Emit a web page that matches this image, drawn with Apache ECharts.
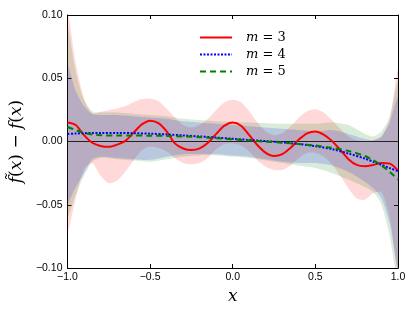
<!DOCTYPE html>
<html><head><meta charset="utf-8">
<script src="https://cdn.jsdelivr.net/npm/echarts@6/dist/echarts.min.js"></script>
<style>html,body{margin:0;padding:0;background:#fff}#c{width:415px;height:312px}</style>
</head><body><div id="c"></div>
<script>
// ---- data ----
const xFine = [-1.00,-0.95,-0.90,-0.85,-0.80,-0.75,-0.70,-0.65,-0.60,-0.55,-0.50,-0.45,-0.40,-0.35,-0.30,-0.25,-0.20,-0.15,-0.10,-0.05,0.00,0.05,0.10,0.15,0.20,0.25,0.30,0.35,0.40,0.45,0.50,0.55,0.60,0.65,0.70,0.75,0.80,0.85,0.90,0.95,1.00];
const m3 = [0.0150,0.0130,0.0050,-0.0010,-0.0035,-0.0042,-0.0025,0.0005,0.0070,0.0135,0.0165,0.0145,0.0080,-0.0015,-0.0055,-0.0068,-0.0055,-0.0010,0.0060,0.0125,0.0150,0.0125,0.0050,-0.0030,-0.0090,-0.0115,-0.0100,-0.0050,0.0015,0.0065,0.0080,0.0055,0.0005,-0.0065,-0.0140,-0.0185,-0.0195,-0.0185,-0.0170,-0.0175,-0.0230];
const m3Upper = [0.102,0.062,0.034,0.022,0.0235,0.025,0.026,0.028,0.031,0.0335,0.034,0.032,0.026,0.019,0.013,0.011,0.013,0.018,0.025,0.031,0.033,0.031,0.024,0.015,0.008,0.005,0.0065,0.012,0.019,0.024,0.0255,0.023,0.017,0.010,0.004,0.001,0.000,0.001,0.004,0.018,0.0565];
const m3Lower = [-0.071,-0.045,-0.022,-0.017,-0.027,-0.033,-0.031,-0.024,-0.015,-0.007,-0.004,-0.005,-0.008,-0.013,-0.017,-0.018,-0.017,-0.013,-0.006,-0.002,-0.0015,-0.003,-0.008,-0.015,-0.020,-0.0225,-0.0225,-0.019,-0.013,-0.009,-0.009,-0.012,-0.018,-0.027,-0.037,-0.045,-0.046,-0.041,-0.040,-0.060,-0.102];

const xCoarse = [-1.00,-0.95,-0.90,-0.85,-0.80,-0.70,-0.60,-0.50,-0.40,-0.30,-0.20,-0.10,0.00,0.10,0.20,0.30,0.40,0.50,0.60,0.70,0.80,0.85,0.90,0.95,1.00];
const m4 = [0.0060,0.0063,0.0066,0.0067,0.0068,0.0068,0.0066,0.0062,0.0056,0.0048,0.0040,0.0031,0.0022,0.0012,0.0003,-0.0006,-0.0020,-0.0038,-0.0060,-0.0095,-0.0135,-0.0160,-0.0185,-0.0210,-0.0235];
const m4Upper = [0.060,0.040,0.028,0.022,0.021,0.021,0.020,0.019,0.018,0.016,0.015,0.014,0.013,0.012,0.011,0.010,0.009,0.008,0.009,0.006,0.002,0.001,0.004,0.015,0.035];
const m4Lower = [-0.048,-0.036,-0.025,-0.014,-0.012,-0.013,-0.014,-0.0145,-0.012,-0.010,-0.010,-0.010,-0.011,-0.012,-0.014,-0.016,-0.017,-0.017,-0.019,-0.024,-0.032,-0.037,-0.045,-0.065,-0.100];
const m5 = [0.0115,0.0090,0.0068,0.0056,0.0050,0.0047,0.0047,0.0046,0.0044,0.0040,0.0034,0.0026,0.0017,0.0008,-0.0001,-0.0010,-0.0020,-0.0032,-0.0050,-0.0075,-0.0115,-0.0148,-0.0190,-0.0240,-0.0300];
const m5Upper = [0.090,0.055,0.033,0.024,0.023,0.023,0.022,0.021,0.020,0.018,0.017,0.016,0.0155,0.015,0.0145,0.014,0.014,0.014,0.015,0.013,0.006,0.004,0.008,0.020,0.047];
const m5Lower = [-0.059,-0.042,-0.027,-0.016,-0.013,-0.014,-0.015,-0.016,-0.014,-0.012,-0.011,-0.011,-0.012,-0.013,-0.015,-0.017,-0.019,-0.021,-0.025,-0.030,-0.036,-0.040,-0.050,-0.075,-0.110];

const seriesNames = ['m3','m4','m5'];
const seriesLabels = ['3','4','5'];

// ---- chart ----
const pairs = (xs, ys) => xs.map((x, i) => [x, ys[i]]);

// confidence band drawn as one polygon, positioned through the axis scales (api.coord)
function band(id, xs, lo, hi, color) {
  const rows = xs.map((x, i) => [x, lo[i], hi[i]]);
  return {
    type:'custom', name:id, data:rows, silent:true, z:1, animation:false,
    encode:{x:0, y:[1,2]},
    renderItem: function (params, api) {
      if (params.dataIndex !== 0) return null;
      const pts = [];
      for (let i = 0; i < rows.length; i++) pts.push(api.coord([rows[i][0], rows[i][2]]));
      for (let i = rows.length - 1; i >= 0; i--) pts.push(api.coord([rows[i][0], rows[i][1]]));
      const cs = params.coordSys;
      return {
        type:'polygon', shape:{points:pts, smooth:0.25},
        style:{fill:color, opacity:0.15, stroke:null},
        clipPath:{type:'rect', shape:{x:cs.x, y:cs.y, width:cs.width, height:cs.height}}
      };
    }
  };
}
const fmtY = v => Math.abs(v) < 1e-9 ? '0.00' : v.toFixed(2).replace('-', '\u2212');
const fmtX = v => Math.abs(v) < 1e-9 ? '0.0' : v.toFixed(1).replace('-', '\u2212');
const axisCommon = {
  axisLine:{onZero:false, lineStyle:{color:'#000', width:1}},
  axisTick:{inside:true, length:4, lineStyle:{color:'#000'}},
  splitLine:{show:false}
};
const tickFont = {color:'#000', fontSize:10.5, fontFamily:'Liberation Sans, Arial, sans-serif'};
const serif = 'DejaVu Serif, Liberation Serif, serif';

const chart = echarts.init(document.getElementById('c'), null, {renderer:'canvas'});
chart.setOption({
  animation:false,
  backgroundColor:'#fff',
  grid:{left:67, right:17, top:15, bottom:44},
  legend:{
    data:seriesNames, orient:'vertical', left:194, top:26, itemWidth:32, itemHeight:14, itemGap:4,
    itemStyle:{opacity:0},
    formatter: n => '{i|m}{n| = ' + seriesLabels[seriesNames.indexOf(n)] + '}',
    textStyle:{rich:{
      i:{fontFamily:serif, fontStyle:'italic', fontSize:13, color:'#000', padding:[0,0,0,9]},
      n:{fontFamily:serif, fontSize:13, color:'#000'}
    }}
  },
  xAxis:[
    Object.assign({type:'value', min:-1, max:1, interval:0.5, position:'bottom',
      axisLabel:Object.assign({formatter:fmtX, margin:4}, tickFont),
      name:'x', nameLocation:'middle', nameGap:18,
      nameTextStyle:{fontFamily:serif, fontStyle:'italic', fontSize:17, color:'#000'}}, axisCommon),
    Object.assign({type:'value', min:-1, max:1, interval:0.5, position:'top', axisLabel:{show:false}}, axisCommon)
  ],
  yAxis:[
    Object.assign({type:'value', min:-0.1, max:0.1, interval:0.05, position:'left',
      axisLabel:Object.assign({formatter:fmtY, margin:5}, tickFont),
      name:'{i|f\u0303}{n|(}{i|x}{n|) \u2212 }{i|f}{n|(}{i|x}{n|)}', nameLocation:'middle', nameGap:29, nameRotate:90,
      nameTextStyle:{rich:{
        i:{fontFamily:serif, fontStyle:'italic', fontSize:17, color:'#000'},
        n:{fontFamily:serif, fontSize:17, color:'#000'}
      }}}, axisCommon),
    Object.assign({type:'value', min:-0.1, max:0.1, interval:0.05, position:'right', axisLabel:{show:false}}, axisCommon)
  ],
  series:[
    band('bR', xFine, m3Lower, m3Upper, '#ff0000'),
    band('bG', xCoarse, m5Lower, m5Upper, '#008000'),
    band('bB', xCoarse, m4Lower, m4Upper, '#0000ff'),
    {type:'line', name:'zero', data:[[-1,0],[1,0]], symbol:'none', lineStyle:{color:'#222', width:1}, silent:true, z:2},
    {type:'line', name:'m3', data:pairs(xFine, m3), symbol:'none', smooth:0.3, lineStyle:{color:'#ff0000', width:2}, itemStyle:{color:'#ff0000'}, z:3},
    {type:'line', name:'m4', data:pairs(xCoarse, m4), symbol:'none', smooth:0.3, lineStyle:{color:'#0000ff', width:2, type:[2,1.5]}, itemStyle:{color:'#0000ff'}, z:3},
    {type:'line', name:'m5', data:pairs(xCoarse, m5), symbol:'none', smooth:0.3, lineStyle:{color:'#008000', width:2, type:[6,4]}, itemStyle:{color:'#008000'}, z:3}
  ]
});
</script></body></html>
